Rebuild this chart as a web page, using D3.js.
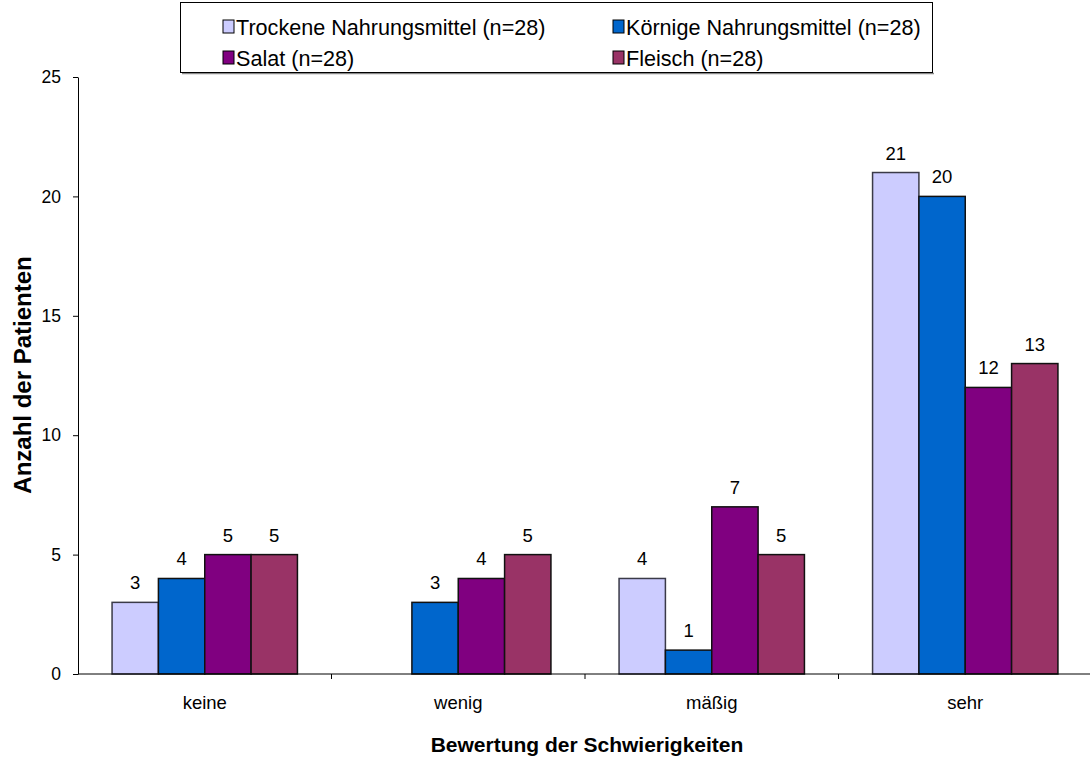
<!DOCTYPE html>
<html>
<head>
<meta charset="utf-8">
<script src="https://cdn.jsdelivr.net/npm/d3@7"></script>
<style>
  html, body { margin: 0; padding: 0; background: #fff; }
  svg { display: block; font-family: "Liberation Sans", Arial, sans-serif; }
</style>
</head>
<body>
<svg id="chart" width="1090" height="761"></svg>
<script>
// Ratings of difficulty (x categories)
const categories = ["keine", "wenig", "mäßig", "sehr"];
// Food types (series)
const seriesNames = [
  "Trockene Nahrungsmittel (n=28)",
  "Körnige Nahrungsmittel (n=28)",
  "Salat (n=28)",
  "Fleisch (n=28)"
];
const seriesColors = ["#CCCCFF", "#0066CC", "#800080", "#993366"];
// Number of patients per rating, one array per food type
const trockene = [3, 0, 4, 21];
const koernige = [4, 3, 1, 20];
const salat    = [5, 4, 7, 12];
const fleisch  = [5, 5, 5, 13];
const yTicks = [0, 5, 10, 15, 20, 25];

const seriesValues = [trockene, koernige, salat, fleisch];

const svg = d3.select("#chart");
const W = 1090;
const plotLeft = 78, plotRight = 1092, plotTop = 77, plotBottom = 674;

const x = d3.scaleBand().domain(categories).range([plotLeft, plotRight]).paddingInner(0).paddingOuter(0);
const xs = d3.scaleBand().domain(d3.range(seriesNames.length)).range([0, x.bandwidth()]).paddingInner(0).paddingOuter(0.735);
const y = d3.scaleLinear().domain([0, 25]).range([plotBottom, plotTop]);

const cells = (c, ci) => seriesValues.map((vals, si) => ({ si, v: vals[ci] })).filter(d => d.v > 0);

// Bars
const groups = svg.append("g").selectAll("g")
  .data(categories)
  .join("g")
  .attr("transform", c => `translate(${x(c)},0)`);

groups.selectAll("rect")
  .data(cells)
  .join("rect")
  .attr("x", d => xs(d.si))
  .attr("y", d => y(d.v))
  .attr("width", xs.bandwidth())
  .attr("height", d => y(0) - y(d.v))
  .attr("fill", d => seriesColors[d.si])
  .attr("stroke", d => d.si === 0 ? "#3a3a48" : "#111")
  .attr("stroke-width", 1.5);

// Value labels
groups.selectAll("text")
  .data(cells)
  .join("text")
  .attr("x", d => xs(d.si) + xs.bandwidth() / 2)
  .attr("y", d => y(d.v) - 13)
  .attr("text-anchor", "middle")
  .attr("font-size", 18.5)
  .attr("fill", "#000")
  .text(d => d.v);

// Y axis
const yAxis = svg.append("g")
  .attr("transform", `translate(${plotLeft},0)`)
  .call(d3.axisLeft(y).tickValues(yTicks).tickSize(5).tickSizeOuter(0).tickPadding(12));
yAxis.select(".domain").attr("stroke", "#000");
yAxis.selectAll(".tick line").attr("stroke", "#000");
yAxis.selectAll("text").attr("font-size", 17.5).attr("font-family", "Liberation Sans, Arial, sans-serif").attr("fill", "#000");

// X axis
const xAxis = svg.append("g")
  .attr("transform", `translate(0,${plotBottom})`);
xAxis.append("line")
  .attr("x1", plotLeft).attr("x2", W).attr("y1", 0).attr("y2", 0)
  .attr("stroke", "#000");
xAxis.selectAll("line.tick")
  .data(categories.slice(1))
  .join("line")
  .attr("class", "tick")
  .attr("x1", c => x(c)).attr("x2", c => x(c))
  .attr("y1", 0).attr("y2", 5)
  .attr("stroke", "#000");
xAxis.selectAll("text")
  .data(categories)
  .join("text")
  .attr("x", c => x(c) + x.bandwidth() / 2)
  .attr("y", 35)
  .attr("text-anchor", "middle")
  .attr("font-size", 18.5)
  .text(c => c);

// Axis titles
svg.append("text")
  .attr("x", 587).attr("y", 752)
  .attr("text-anchor", "middle")
  .attr("font-size", 21).attr("font-weight", "bold")
  .text("Bewertung der Schwierigkeiten");
svg.append("text")
  .attr("transform", "translate(31,375) rotate(-90)")
  .attr("text-anchor", "middle")
  .attr("font-size", 24).attr("font-weight", "bold")
  .text("Anzahl der Patienten");

// Legend
const legend = svg.append("g");
legend.append("line")
  .attr("x1", 182).attr("x2", 934).attr("y1", 73.5).attr("y2", 73.5)
  .attr("stroke", "#888").attr("stroke-width", 1.5);
legend.append("rect")
  .attr("x", 180.5).attr("y", 2.5).attr("width", 752).attr("height", 70)
  .attr("fill", "#fff").attr("stroke", "#000");
const legPos = [[223, 27], [613, 27], [223, 58], [613, 58]];
seriesNames.forEach((name, i) => {
  const [lx, ly] = legPos[i];
  legend.append("rect")
    .attr("x", lx).attr("y", ly - 7).attr("width", 11).attr("height", 13)
    .attr("fill", seriesColors[i]).attr("stroke", "#000").attr("stroke-width", 1);
  legend.append("text")
    .attr("x", lx + 13).attr("y", ly + 8)
    .attr("font-size", 21.6)
    .text(name);
});
</script>
</body>
</html>
